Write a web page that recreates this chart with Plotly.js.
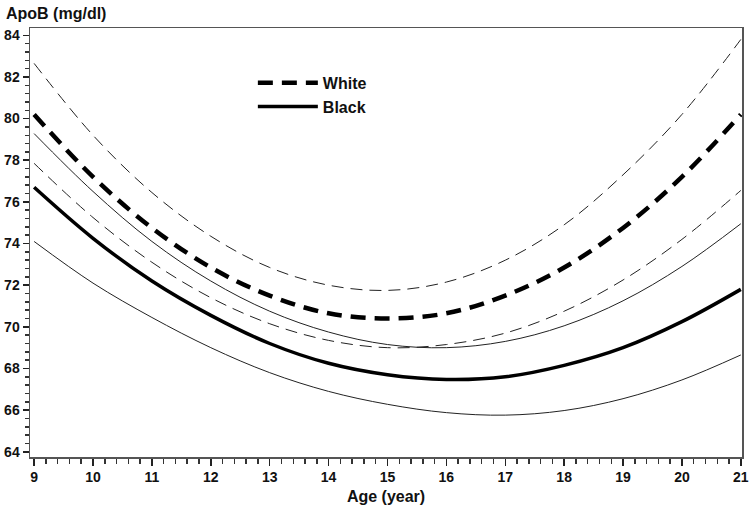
<!DOCTYPE html>
<html>
<head>
<meta charset="utf-8">
<script src="https://cdn.plot.ly/plotly-3.0.1.min.js"></script>
<style>
  body { margin: 0; background: #fff; }
  #plot { width: 750px; height: 510px; }
</style>
</head>
<body>
<div id="plot"></div>
<script>
// values at each year of age
const ages = [9, 10, 11, 12, 13, 14, 15, 16, 17, 18, 19, 20, 21];

const whiteMean  = [80.2, 77.2, 74.75, 72.85, 71.5, 70.65, 70.4, 70.65, 71.5, 72.85, 74.75, 77.2, 80.2];
const whiteUpper = [82.65, 79.2, 76.45, 74.35, 72.85, 72.0, 71.75, 72.15, 73.2, 74.9, 77.3, 80.2, 83.8];
const whiteLower = [77.85, 75.25, 73.1, 71.4, 70.15, 69.35, 69.0, 69.15, 69.7, 70.75, 72.25, 74.2, 76.55];

const blackMean  = [76.7, 74.25, 72.2, 70.55, 69.2, 68.25, 67.7, 67.47, 67.6, 68.15, 69.0, 70.25, 71.8];
const blackUpper = [79.28, 76.5, 74.1, 72.2, 70.75, 69.75, 69.15, 69.0, 69.3, 70.05, 71.25, 72.9, 74.95];
const blackLower = [74.1, 72.1, 70.45, 69.0, 67.8, 66.9, 66.28, 65.88, 65.76, 65.98, 66.55, 67.45, 68.65];

const xTicks = [9, 10, 11, 12, 13, 14, 15, 16, 17, 18, 19, 20, 21];
const yTicks = [64, 66, 68, 70, 72, 74, 76, 78, 80, 82, 84];

const font = 'Liberation Sans, Arial, Helvetica, sans-serif';

function curve(y, name, width, dash, color, legend) {
  return {
    x: ages, y: y, name: name,
    type: 'scatter', mode: 'lines',
    line: { color: color, width: width, dash: dash, shape: 'spline', smoothing: 1 },
    showlegend: legend,
    hoverinfo: 'skip'
  };
}

const data = [
  curve(whiteUpper, 'White upper', 1, '12px,7px', '#222', false),
  curve(whiteLower, 'White lower', 1, '12px,7px', '#222', false),
  curve(blackUpper, 'Black upper', 1, 'solid', '#222', false),
  curve(blackLower, 'Black lower', 1, 'solid', '#222', false),
  curve(whiteMean, 'White', 4.5, '15px,9px', '#000', true),
  curve(blackMean, 'Black', 3.5, 'solid', '#000', true)
];

const tickFont = { family: font, size: 14, weight: 'bold', color: '#111' };

const layout = {
  width: 750,
  height: 510,
  margin: { l: 30, r: 8, t: 28, b: 53 },
  paper_bgcolor: '#fff',
  plot_bgcolor: '#fff',
  font: { family: font, color: '#111' },
  showlegend: true,
  legend: {
    x: 0.313, y: 0.912, xanchor: 'left', yanchor: 'top',
    bgcolor: 'rgba(0,0,0,0)',
    itemwidth: 60,
    traceorder: 'normal',
    font: { family: font, size: 16, weight: 'bold', color: '#111' }
  },
  xaxis: {
    range: [8.93, 21.02],
    tickmode: 'linear', tick0: xTicks[0], dtick: xTicks[1] - xTicks[0],
    ticks: 'outside', ticklen: 7, tickwidth: 1.5, tickcolor: '#222',
    minor: { tickmode: 'linear', tick0: xTicks[0], dtick: 0.2, ticks: 'outside', ticklen: 5, tickwidth: 1.5, tickcolor: '#333', showgrid: false },
    showline: true, linecolor: '#555', linewidth: 1.5, mirror: true,
    showgrid: false, zeroline: false,
    tickfont: tickFont,
    title: { text: 'Age (year)', standoff: 6, font: { family: font, size: 16, weight: 'bold', color: '#111' } }
  },
  yaxis: {
    range: [63.75, 84.35],
    tickmode: 'linear', tick0: yTicks[0], dtick: yTicks[1] - yTicks[0],
    ticks: 'outside', ticklen: 6, tickwidth: 1.5, tickcolor: '#222',
    minor: { tickmode: 'linear', tick0: yTicks[0], dtick: 0.4, ticks: 'outside', ticklen: 4, tickwidth: 1.5, tickcolor: '#333', showgrid: false },
    showline: true, linecolor: '#555', linewidth: 1.5, mirror: true,
    showgrid: false, zeroline: false,
    tickfont: tickFont
  },
  annotations: [{
    text: 'ApoB (mg/dl)',
    xref: 'paper', yref: 'paper',
    x: -0.036, y: 1.0, xanchor: 'left', yanchor: 'bottom', yshift: 4,
    showarrow: false,
    font: { family: font, size: 16, weight: 'bold', color: '#111' }
  }]
};

Plotly.newPlot('plot', data, layout, { staticPlot: true, displayModeBar: false });
</script>
</body>
</html>
